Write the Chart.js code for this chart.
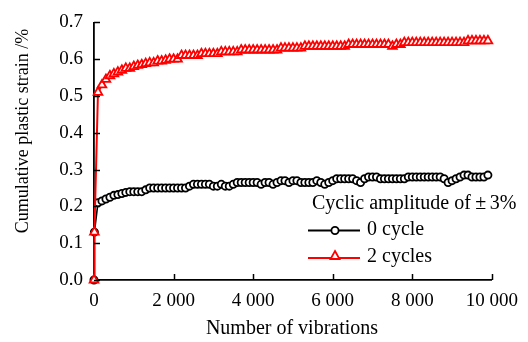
<!DOCTYPE html>
<html>
<head>
<meta charset="utf-8">
<script src="https://cdn.jsdelivr.net/npm/chart.js@4/dist/chart.umd.min.js"></script>
<style>
  html, body { margin: 0; padding: 0; background: #fff; }
  #wrap { width: 528px; height: 342px; }
</style>
</head>
<body>
<div id="wrap"><canvas id="strainChart" width="528" height="342"></canvas></div>
<script>
// number of vibrations (x) shared by both series
const cycles = [
    0, 10, 100, 200, 300, 400, 500, 600, 700, 800, 900,
    1000, 1100, 1200, 1300, 1400, 1500, 1600, 1700, 1800, 1900,
    2000, 2100, 2200, 2300, 2400, 2500, 2600, 2700, 2800, 2900,
    3000, 3100, 3200, 3300, 3400, 3500, 3600, 3700, 3800, 3900,
    4000, 4100, 4200, 4300, 4400, 4500, 4600, 4700, 4800, 4900,
    5000, 5100, 5200, 5300, 5400, 5500, 5600, 5700, 5800, 5900,
    6000, 6100, 6200, 6300, 6400, 6500, 6600, 6700, 6800, 6900,
    7000, 7100, 7200, 7300, 7400, 7500, 7600, 7700, 7800, 7900,
    8000, 8100, 8200, 8300, 8400, 8500, 8600, 8700, 8800, 8900,
    9000, 9100, 9200, 9300, 9400, 9500, 9600, 9700, 9800, 9900
];

// cumulative plastic strain (%), 0 cycle
const strain0 = [
    0, 0.13, 0.21, 0.215, 0.22, 0.225, 0.23, 0.232, 0.235, 0.238, 0.24,
    0.24, 0.24, 0.24, 0.245, 0.25, 0.25, 0.25, 0.25, 0.25, 0.25,
    0.25, 0.25, 0.25, 0.25, 0.255, 0.26, 0.26, 0.26, 0.26, 0.26,
    0.255, 0.255, 0.26, 0.255, 0.255, 0.26, 0.265, 0.265, 0.265, 0.265,
    0.265, 0.265, 0.26, 0.265, 0.265, 0.26, 0.265, 0.27, 0.27, 0.265,
    0.27, 0.27, 0.265, 0.265, 0.265, 0.265, 0.27, 0.265, 0.26, 0.265,
    0.27, 0.275, 0.275, 0.275, 0.275, 0.275, 0.27, 0.265, 0.275, 0.28,
    0.28, 0.28, 0.275, 0.275, 0.275, 0.275, 0.275, 0.275, 0.275, 0.28,
    0.28, 0.28, 0.28, 0.28, 0.28, 0.28, 0.28, 0.28, 0.275, 0.265,
    0.27, 0.275, 0.28, 0.285, 0.285, 0.28, 0.28, 0.28, 0.28, 0.285
];

// cumulative plastic strain (%), 2 cycles
const strain2 = [
    0, 0.13, 0.51, 0.53, 0.545, 0.555, 0.56, 0.565, 0.57, 0.575, 0.575,
    0.58, 0.583, 0.585, 0.588, 0.59, 0.59, 0.595, 0.595, 0.597, 0.6,
    0.6, 0.6, 0.61, 0.61, 0.61, 0.61, 0.61, 0.615, 0.615, 0.615,
    0.615, 0.615, 0.62, 0.62, 0.62, 0.62, 0.62, 0.625, 0.625, 0.625,
    0.625, 0.625, 0.625, 0.625, 0.625, 0.625, 0.625, 0.63, 0.63, 0.63,
    0.63, 0.63, 0.63, 0.635, 0.635, 0.635, 0.635, 0.635, 0.635, 0.635,
    0.635, 0.635, 0.635, 0.635, 0.64, 0.64, 0.64, 0.64, 0.64, 0.64,
    0.64, 0.64, 0.64, 0.64, 0.64, 0.635, 0.64, 0.64, 0.645, 0.645,
    0.645, 0.645, 0.645, 0.645, 0.645, 0.645, 0.645, 0.645, 0.645, 0.645,
    0.645, 0.645, 0.645, 0.645, 0.65, 0.65, 0.65, 0.65, 0.65, 0.65
];

const seriesLabels = ['0 cycle', '2 cycles'];
const legendTitle = ['Cyclic amplitude of', '±', '3%'];
const xTitle = 'Number of vibrations';
const yTitle = 'Cumulative plastic strain /%';

const serif = '"Liberation Serif", "Times New Roman", serif';

function toPoints(ys) {
    return cycles.map((c, i) => ({ x: c, y: ys[i] }));
}

function drawTriangle(ctx, x, y, r) {
    ctx.beginPath();
    ctx.moveTo(x, y - r);
    ctx.lineTo(x + r * 0.9, y + r * 0.6);
    ctx.lineTo(x - r * 0.9, y + r * 0.6);
    ctx.closePath();
}

// inward ticks, axis titles and the legend box
const decorations = {
    id: 'decorations',
    afterDraw(chart) {
        const ctx = chart.ctx;
        const xs = chart.scales.x;
        const ys = chart.scales.y;
        const area = chart.chartArea;

        ctx.save();
        ctx.strokeStyle = '#000';
        ctx.lineWidth = 1.5;
        ys.ticks.forEach(t => {
            const py = Math.round(ys.getPixelForValue(t.value)) + 0.5;
            ctx.beginPath();
            ctx.moveTo(area.left, py);
            ctx.lineTo(area.left + 6, py);
            ctx.stroke();
        });
        xs.ticks.forEach(t => {
            if (t.value === 0) return;
            const px = Math.round(xs.getPixelForValue(t.value)) + 0.5;
            ctx.beginPath();
            ctx.moveTo(px, area.bottom);
            ctx.lineTo(px, area.bottom - 6);
            ctx.stroke();
        });

        // axis titles
        ctx.fillStyle = '#000';
        ctx.textAlign = 'center';
        ctx.textBaseline = 'middle';
        ctx.font = '20px ' + serif;
        ctx.fillText(xTitle, 292, 329);
        ctx.save();
        ctx.translate(23, 131);
        ctx.rotate(-Math.PI / 2);
        ctx.font = '18px ' + serif;
        ctx.fillText(yTitle, 0, 0);
        ctx.restore();

        // legend
        ctx.font = '20px ' + serif;
        ctx.textAlign = 'left';
        let lx = 312;
        ctx.fillText(legendTitle[0], lx, 204);
        lx += ctx.measureText(legendTitle[0]).width + 2;
        ctx.textAlign = 'center';
        ctx.fillText(legendTitle[1], lx + 8, 204);
        ctx.textAlign = 'left';
        ctx.fillText(legendTitle[2], lx + 17, 204);

        // 0 cycle entry
        ctx.lineWidth = 1.8;
        ctx.strokeStyle = '#000';
        ctx.beginPath();
        ctx.moveTo(308, 230.5);
        ctx.lineTo(360, 230.5);
        ctx.stroke();
        ctx.fillStyle = '#fff';
        ctx.beginPath();
        ctx.arc(335, 230.5, 3.6, 0, Math.PI * 2);
        ctx.fill();
        ctx.stroke();
        ctx.fillStyle = '#000';
        ctx.fillText(seriesLabels[0], 367, 230);

        // 2 cycles entry
        ctx.strokeStyle = '#ff0000';
        ctx.lineWidth = 2;
        ctx.beginPath();
        ctx.moveTo(308, 258);
        ctx.lineTo(360, 258);
        ctx.stroke();
        ctx.fillStyle = '#fff';
        drawTriangle(ctx, 335, 256, 5);
        ctx.fill();
        ctx.lineWidth = 1.8;
        ctx.stroke();
        ctx.fillStyle = '#000';
        ctx.fillText(seriesLabels[1], 367, 257);
        ctx.restore();
    }
};

new Chart(document.getElementById('strainChart'), {
    type: 'line',
    data: {
        datasets: [
            {
                label: seriesLabels[1],
                data: toPoints(strain2),
                borderColor: '#ff0000',
                borderWidth: 2,
                pointStyle: 'triangle',
                pointRadius: 5,
                pointBorderWidth: 1.8,
                pointBorderColor: '#ff0000',
                pointBackgroundColor: '#fff',
                tension: 0,
                clip: 10,
                order: 0
            },
            {
                label: seriesLabels[0],
                data: toPoints(strain0),
                borderColor: '#000',
                borderWidth: 1.6,
                pointStyle: 'circle',
                pointRadius: 3.6,
                pointBorderWidth: 1.8,
                pointBorderColor: '#000',
                pointBackgroundColor: '#fff',
                tension: 0,
                clip: 10,
                order: 1
            }
        ]
    },
    options: {
        responsive: false,
        animation: false,
        events: [],
        layout: { padding: { left: 0, right: 35, top: 20, bottom: 0 } },
        plugins: {
            legend: { display: false },
            tooltip: { enabled: false }
        },
        scales: {
            x: {
                type: 'linear',
                min: 0,
                max: 10000,
                border: { display: true, color: '#000', width: 1.8 },
                grid: { display: false, drawTicks: false },
                ticks: {
                    stepSize: 2000,
                    color: '#000',
                    padding: 10,
                    maxRotation: 0,
                    font: { family: serif, size: 19 },
                    callback: v => v === 0 ? '0' : String(v).replace(/\B(?=(\d{3})+(?!\d))/g, ' ')
                },
                afterFit: s => { s.height = 62; }
            },
            y: {
                min: 0,
                max: 0.7,
                border: { display: true, color: '#000', width: 1.8 },
                grid: { display: false, drawTicks: false },
                ticks: {
                    stepSize: 0.1,
                    color: '#000',
                    padding: 11,
                    font: { family: serif, size: 19 },
                    callback: v => v.toFixed(1)
                },
                afterFit: s => { s.width = 94; }
            }
        }
    },
    plugins: [decorations]
});
</script>
</body>
</html>
